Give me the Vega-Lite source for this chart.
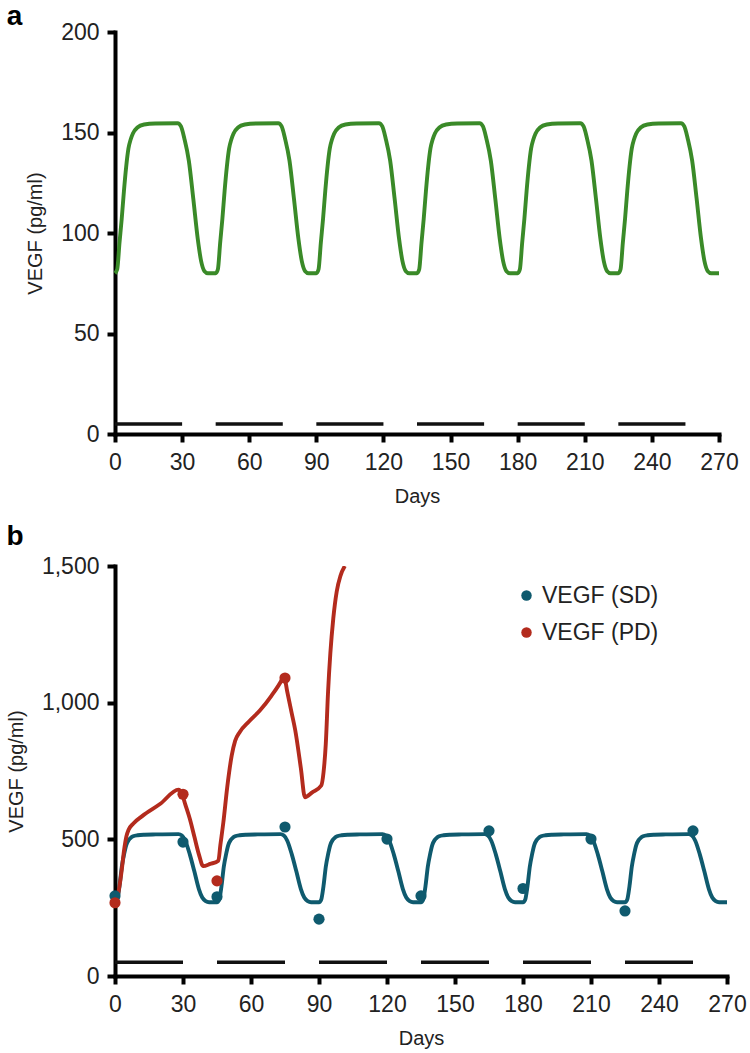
{
  "$schema": "https://vega.github.io/schema/vega-lite/v6.json",
  "padding": {"left": 6, "top": 3, "right": 5, "bottom": 0},
  "spacing": 16,
  "datasets": {
    "green": [
      {"day": 0, "v": 80}, {"day": 1, "v": 82}, {"day": 2, "v": 95}, {"day": 3, "v": 107}, {"day": 4, "v": 121}, {"day": 5, "v": 133}, {"day": 6, "v": 142}, {"day": 7, "v": 146.5}, {"day": 8, "v": 149.5}, {"day": 10, "v": 152.5}, {"day": 13, "v": 154}, {"day": 18, "v": 154.5}, {"day": 28, "v": 154.6}, {"day": 29.5, "v": 153}, {"day": 31, "v": 147}, {"day": 33, "v": 136}, {"day": 35, "v": 117}, {"day": 37, "v": 97}, {"day": 38.5, "v": 86}, {"day": 40, "v": 81}, {"day": 41.5, "v": 80},
      {"day": 45, "v": 80}, {"day": 46, "v": 82}, {"day": 47, "v": 95}, {"day": 48, "v": 107}, {"day": 49, "v": 121}, {"day": 50, "v": 133}, {"day": 51, "v": 142}, {"day": 52, "v": 146.5}, {"day": 53, "v": 149.5}, {"day": 55, "v": 152.5}, {"day": 58, "v": 154}, {"day": 63, "v": 154.5}, {"day": 73, "v": 154.6}, {"day": 74.5, "v": 153}, {"day": 76, "v": 147}, {"day": 78, "v": 136}, {"day": 80, "v": 117}, {"day": 82, "v": 97}, {"day": 83.5, "v": 86}, {"day": 85, "v": 81}, {"day": 86.5, "v": 80},
      {"day": 90, "v": 80}, {"day": 91, "v": 82}, {"day": 92, "v": 95}, {"day": 93, "v": 107}, {"day": 94, "v": 121}, {"day": 95, "v": 133}, {"day": 96, "v": 142}, {"day": 97, "v": 146.5}, {"day": 98, "v": 149.5}, {"day": 100, "v": 152.5}, {"day": 103, "v": 154}, {"day": 108, "v": 154.5}, {"day": 118, "v": 154.6}, {"day": 119.5, "v": 153}, {"day": 121, "v": 147}, {"day": 123, "v": 136}, {"day": 125, "v": 117}, {"day": 127, "v": 97}, {"day": 128.5, "v": 86}, {"day": 130, "v": 81}, {"day": 131.5, "v": 80},
      {"day": 135, "v": 80}, {"day": 136, "v": 82}, {"day": 137, "v": 95}, {"day": 138, "v": 107}, {"day": 139, "v": 121}, {"day": 140, "v": 133}, {"day": 141, "v": 142}, {"day": 142, "v": 146.5}, {"day": 143, "v": 149.5}, {"day": 145, "v": 152.5}, {"day": 148, "v": 154}, {"day": 153, "v": 154.5}, {"day": 163, "v": 154.6}, {"day": 164.5, "v": 153}, {"day": 166, "v": 147}, {"day": 168, "v": 136}, {"day": 170, "v": 117}, {"day": 172, "v": 97}, {"day": 173.5, "v": 86}, {"day": 175, "v": 81}, {"day": 176.5, "v": 80},
      {"day": 180, "v": 80}, {"day": 181, "v": 82}, {"day": 182, "v": 95}, {"day": 183, "v": 107}, {"day": 184, "v": 121}, {"day": 185, "v": 133}, {"day": 186, "v": 142}, {"day": 187, "v": 146.5}, {"day": 188, "v": 149.5}, {"day": 190, "v": 152.5}, {"day": 193, "v": 154}, {"day": 198, "v": 154.5}, {"day": 208, "v": 154.6}, {"day": 209.5, "v": 153}, {"day": 211, "v": 147}, {"day": 213, "v": 136}, {"day": 215, "v": 117}, {"day": 217, "v": 97}, {"day": 218.5, "v": 86}, {"day": 220, "v": 81}, {"day": 221.5, "v": 80},
      {"day": 225, "v": 80}, {"day": 226, "v": 82}, {"day": 227, "v": 95}, {"day": 228, "v": 107}, {"day": 229, "v": 121}, {"day": 230, "v": 133}, {"day": 231, "v": 142}, {"day": 232, "v": 146.5}, {"day": 233, "v": 149.5}, {"day": 235, "v": 152.5}, {"day": 238, "v": 154}, {"day": 243, "v": 154.5}, {"day": 253, "v": 154.6}, {"day": 254.5, "v": 153}, {"day": 256, "v": 147}, {"day": 258, "v": 136}, {"day": 260, "v": 117}, {"day": 262, "v": 97}, {"day": 263.5, "v": 86}, {"day": 265, "v": 81}, {"day": 266.5, "v": 80},
      {"day": 270, "v": 80}
    ],
    "linesB": [
      {"model": "SD", "day": 0, "v": 270}, {"model": "SD", "day": 1, "v": 280}, {"model": "SD", "day": 2, "v": 330}, {"model": "SD", "day": 3, "v": 400}, {"model": "SD", "day": 4, "v": 445}, {"model": "SD", "day": 5, "v": 480}, {"model": "SD", "day": 6, "v": 497}, {"model": "SD", "day": 7, "v": 506}, {"model": "SD", "day": 8, "v": 511}, {"model": "SD", "day": 10, "v": 515}, {"model": "SD", "day": 13, "v": 517}, {"model": "SD", "day": 18, "v": 518}, {"model": "SD", "day": 28, "v": 519}, {"model": "SD", "day": 29.5, "v": 514}, {"model": "SD", "day": 31, "v": 495}, {"model": "SD", "day": 33, "v": 445}, {"model": "SD", "day": 35, "v": 383}, {"model": "SD", "day": 37, "v": 318}, {"model": "SD", "day": 38.5, "v": 287}, {"model": "SD", "day": 40, "v": 274}, {"model": "SD", "day": 41.5, "v": 270},
      {"model": "SD", "day": 45, "v": 270}, {"model": "SD", "day": 46, "v": 280}, {"model": "SD", "day": 47, "v": 330}, {"model": "SD", "day": 48, "v": 400}, {"model": "SD", "day": 49, "v": 445}, {"model": "SD", "day": 50, "v": 480}, {"model": "SD", "day": 51, "v": 497}, {"model": "SD", "day": 52, "v": 506}, {"model": "SD", "day": 53, "v": 511}, {"model": "SD", "day": 55, "v": 515}, {"model": "SD", "day": 58, "v": 517}, {"model": "SD", "day": 63, "v": 518}, {"model": "SD", "day": 73, "v": 519}, {"model": "SD", "day": 74.5, "v": 514}, {"model": "SD", "day": 76, "v": 495}, {"model": "SD", "day": 78, "v": 445}, {"model": "SD", "day": 80, "v": 383}, {"model": "SD", "day": 82, "v": 318}, {"model": "SD", "day": 83.5, "v": 287}, {"model": "SD", "day": 85, "v": 274}, {"model": "SD", "day": 86.5, "v": 270},
      {"model": "SD", "day": 90, "v": 270}, {"model": "SD", "day": 91, "v": 280}, {"model": "SD", "day": 92, "v": 330}, {"model": "SD", "day": 93, "v": 400}, {"model": "SD", "day": 94, "v": 445}, {"model": "SD", "day": 95, "v": 480}, {"model": "SD", "day": 96, "v": 497}, {"model": "SD", "day": 97, "v": 506}, {"model": "SD", "day": 98, "v": 511}, {"model": "SD", "day": 100, "v": 515}, {"model": "SD", "day": 103, "v": 517}, {"model": "SD", "day": 108, "v": 518}, {"model": "SD", "day": 118, "v": 519}, {"model": "SD", "day": 119.5, "v": 514}, {"model": "SD", "day": 121, "v": 495}, {"model": "SD", "day": 123, "v": 445}, {"model": "SD", "day": 125, "v": 383}, {"model": "SD", "day": 127, "v": 318}, {"model": "SD", "day": 128.5, "v": 287}, {"model": "SD", "day": 130, "v": 274}, {"model": "SD", "day": 131.5, "v": 270},
      {"model": "SD", "day": 135, "v": 270}, {"model": "SD", "day": 136, "v": 280}, {"model": "SD", "day": 137, "v": 330}, {"model": "SD", "day": 138, "v": 400}, {"model": "SD", "day": 139, "v": 445}, {"model": "SD", "day": 140, "v": 480}, {"model": "SD", "day": 141, "v": 497}, {"model": "SD", "day": 142, "v": 506}, {"model": "SD", "day": 143, "v": 511}, {"model": "SD", "day": 145, "v": 515}, {"model": "SD", "day": 148, "v": 517}, {"model": "SD", "day": 153, "v": 518}, {"model": "SD", "day": 163, "v": 519}, {"model": "SD", "day": 164.5, "v": 514}, {"model": "SD", "day": 166, "v": 495}, {"model": "SD", "day": 168, "v": 445}, {"model": "SD", "day": 170, "v": 383}, {"model": "SD", "day": 172, "v": 318}, {"model": "SD", "day": 173.5, "v": 287}, {"model": "SD", "day": 175, "v": 274}, {"model": "SD", "day": 176.5, "v": 270},
      {"model": "SD", "day": 180, "v": 270}, {"model": "SD", "day": 181, "v": 280}, {"model": "SD", "day": 182, "v": 330}, {"model": "SD", "day": 183, "v": 400}, {"model": "SD", "day": 184, "v": 445}, {"model": "SD", "day": 185, "v": 480}, {"model": "SD", "day": 186, "v": 497}, {"model": "SD", "day": 187, "v": 506}, {"model": "SD", "day": 188, "v": 511}, {"model": "SD", "day": 190, "v": 515}, {"model": "SD", "day": 193, "v": 517}, {"model": "SD", "day": 198, "v": 518}, {"model": "SD", "day": 208, "v": 519}, {"model": "SD", "day": 209.5, "v": 514}, {"model": "SD", "day": 211, "v": 495}, {"model": "SD", "day": 213, "v": 445}, {"model": "SD", "day": 215, "v": 383}, {"model": "SD", "day": 217, "v": 318}, {"model": "SD", "day": 218.5, "v": 287}, {"model": "SD", "day": 220, "v": 274}, {"model": "SD", "day": 221.5, "v": 270},
      {"model": "SD", "day": 225, "v": 270}, {"model": "SD", "day": 226, "v": 280}, {"model": "SD", "day": 227, "v": 330}, {"model": "SD", "day": 228, "v": 400}, {"model": "SD", "day": 229, "v": 445}, {"model": "SD", "day": 230, "v": 480}, {"model": "SD", "day": 231, "v": 497}, {"model": "SD", "day": 232, "v": 506}, {"model": "SD", "day": 233, "v": 511}, {"model": "SD", "day": 235, "v": 515}, {"model": "SD", "day": 238, "v": 517}, {"model": "SD", "day": 243, "v": 518}, {"model": "SD", "day": 253, "v": 519}, {"model": "SD", "day": 254.5, "v": 514}, {"model": "SD", "day": 256, "v": 495}, {"model": "SD", "day": 258, "v": 445}, {"model": "SD", "day": 260, "v": 383}, {"model": "SD", "day": 262, "v": 318}, {"model": "SD", "day": 263.5, "v": 287}, {"model": "SD", "day": 265, "v": 274}, {"model": "SD", "day": 266.5, "v": 270},
      {"model": "SD", "day": 270, "v": 270},
      {"model": "PD", "day": 0, "v": 270}, {"model": "PD", "day": 1, "v": 285}, {"model": "PD", "day": 2, "v": 330}, {"model": "PD", "day": 3, "v": 390}, {"model": "PD", "day": 4, "v": 460}, {"model": "PD", "day": 5, "v": 510}, {"model": "PD", "day": 6, "v": 535}, {"model": "PD", "day": 8, "v": 557}, {"model": "PD", "day": 12, "v": 585}, {"model": "PD", "day": 20, "v": 630}, {"model": "PD", "day": 28, "v": 682}, {"model": "PD", "day": 29.5, "v": 668}, {"model": "PD", "day": 31, "v": 628}, {"model": "PD", "day": 33, "v": 575}, {"model": "PD", "day": 35, "v": 510}, {"model": "PD", "day": 37, "v": 445}, {"model": "PD", "day": 38.9, "v": 402}, {"model": "PD", "day": 42, "v": 410}, {"model": "PD", "day": 45.6, "v": 422}, {"model": "PD", "day": 46.5, "v": 480}, {"model": "PD", "day": 47.8, "v": 562}, {"model": "PD", "day": 49.5, "v": 690}, {"model": "PD", "day": 51.5, "v": 807}, {"model": "PD", "day": 53, "v": 860}, {"model": "PD", "day": 55, "v": 892}, {"model": "PD", "day": 59, "v": 930}, {"model": "PD", "day": 64, "v": 972}, {"model": "PD", "day": 69, "v": 1025}, {"model": "PD", "day": 73.5, "v": 1082}, {"model": "PD", "day": 74.5, "v": 1098}, {"model": "PD", "day": 76, "v": 1040}, {"model": "PD", "day": 78, "v": 960}, {"model": "PD", "day": 79.5, "v": 900}, {"model": "PD", "day": 82, "v": 760}, {"model": "PD", "day": 83.8, "v": 654}, {"model": "PD", "day": 87, "v": 672}, {"model": "PD", "day": 91, "v": 697}, {"model": "PD", "day": 92, "v": 745}, {"model": "PD", "day": 93, "v": 850}, {"model": "PD", "day": 94, "v": 1040}, {"model": "PD", "day": 95, "v": 1180}, {"model": "PD", "day": 96.3, "v": 1308}, {"model": "PD", "day": 97.8, "v": 1406}, {"model": "PD", "day": 99.5, "v": 1465}, {"model": "PD", "day": 101.4, "v": 1500}
    ],
    "pointsB": [
      {"series": "VEGF (SD)", "day": 0, "v": 293}, {"series": "VEGF (SD)", "day": 30, "v": 490}, {"series": "VEGF (SD)", "day": 45, "v": 290}, {"series": "VEGF (SD)", "day": 75, "v": 545}, {"series": "VEGF (SD)", "day": 90, "v": 208}, {"series": "VEGF (SD)", "day": 120, "v": 501}, {"series": "VEGF (SD)", "day": 135, "v": 293}, {"series": "VEGF (SD)", "day": 165, "v": 531}, {"series": "VEGF (SD)", "day": 180, "v": 320}, {"series": "VEGF (SD)", "day": 210, "v": 501}, {"series": "VEGF (SD)", "day": 225, "v": 238}, {"series": "VEGF (SD)", "day": 255, "v": 531},
      {"series": "VEGF (PD)", "day": 0, "v": 268}, {"series": "VEGF (PD)", "day": 30, "v": 665}, {"series": "VEGF (PD)", "day": 45, "v": 348}, {"series": "VEGF (PD)", "day": 75, "v": 1090}
    ],
    "dosesA": [
      {"day": 0, "day2": 30, "v": 5}, {"day": 45, "day2": 75, "v": 5}, {"day": 90, "day2": 120, "v": 5}, {"day": 135, "day2": 165, "v": 5}, {"day": 180, "day2": 210, "v": 5}, {"day": 225, "day2": 255, "v": 5}
    ],
    "dosesB": [
      {"day": 0, "day2": 30, "v": 50}, {"day": 45, "day2": 75, "v": 50}, {"day": 90, "day2": 120, "v": 50}, {"day": 135, "day2": 165, "v": 50}, {"day": 180, "day2": 210, "v": 50}, {"day": 225, "day2": 255, "v": 50}
    ]
  },
  "vconcat": [
    {
      "width": 604,
      "height": 402,
      "title": {"text": "a", "offset": -10, "dx": -19},
      "encoding": {
        "x": {"field": "day", "type": "quantitative", "scale": {"domain": [0, 270], "nice": false}, "axis": {"title": "Days", "values": [0, 30, 60, 90, 120, 150, 180, 210, 240, 270]}},
        "y": {"field": "v", "type": "quantitative", "scale": {"domain": [0, 200], "nice": false}, "axis": {"title": "VEGF (pg/ml)", "values": [0, 50, 100, 150, 200]}}
      },
      "layer": [
        {"data": {"name": "dosesA"}, "mark": {"type": "rule", "strokeWidth": 3.5, "color": "#111"}, "encoding": {"x2": {"field": "day2"}}},
        {"data": {"name": "green"}, "mark": {"type": "line", "interpolate": "monotone", "strokeWidth": 3.9, "color": "#3a8a28"}}
      ]
    },
    {
      "width": 612,
      "height": 410,
      "title": {"text": "b", "offset": 4},
      "encoding": {
        "x": {"field": "day", "type": "quantitative", "scale": {"domain": [0, 270], "nice": false}, "axis": {"title": "Days", "values": [0, 30, 60, 90, 120, 150, 180, 210, 240, 270]}},
        "y": {"field": "v", "type": "quantitative", "scale": {"domain": [0, 1500], "nice": false}, "axis": {"title": "VEGF (pg/ml)", "values": [0, 500, 1000, 1500], "format": ",.0f"}}
      },
      "layer": [
        {"data": {"name": "dosesB"}, "mark": {"type": "rule", "strokeWidth": 3.5, "color": "#111"}, "encoding": {"x2": {"field": "day2"}}},
        {"data": {"name": "linesB"}, "mark": {"type": "line", "interpolate": "monotone", "strokeWidth": 3.9, "clip": true}, "encoding": {"stroke": {"field": "model", "type": "nominal", "scale": {"domain": ["SD", "PD"], "range": ["#0f5a6e", "#b32b1d"]}, "legend": null}}},
        {"data": {"name": "pointsB"}, "mark": {"type": "circle", "size": 125, "opacity": 1}, "encoding": {"color": {"field": "series", "type": "nominal", "scale": {"domain": ["VEGF (SD)", "VEGF (PD)"], "range": ["#0f5a6e", "#b32b1d"]}, "legend": {"orient": "none", "legendX": 400, "legendY": 552, "title": null, "labelFontSize": 23, "labelColor": "#222", "symbolType": "circle", "symbolSize": 110, "rowPadding": 13, "labelOffset": 4}}}}
      ]
    }
  ],
  "config": {
    "font": "Liberation Sans",
    "view": {"stroke": null},
    "title": {"anchor": "start", "frame": "bounds", "fontSize": 28, "fontWeight": "bold", "color": "#000"},
    "axis": {"grid": false, "domainColor": "#000", "domainWidth": 4, "domainCap": "square", "tickColor": "#000", "tickWidth": 4, "tickSize": 8, "labelFontSize": 23, "labelColor": "#222", "labelFlush": false, "labelOverlap": false, "titleFontSize": 20, "titleFontWeight": "normal", "titleColor": "#222", "titlePadding": 15},
    "axisX": {"labelPadding": 9.5, "titlePadding": 12},
    "axisY": {"labelPadding": 8}
  }
}
